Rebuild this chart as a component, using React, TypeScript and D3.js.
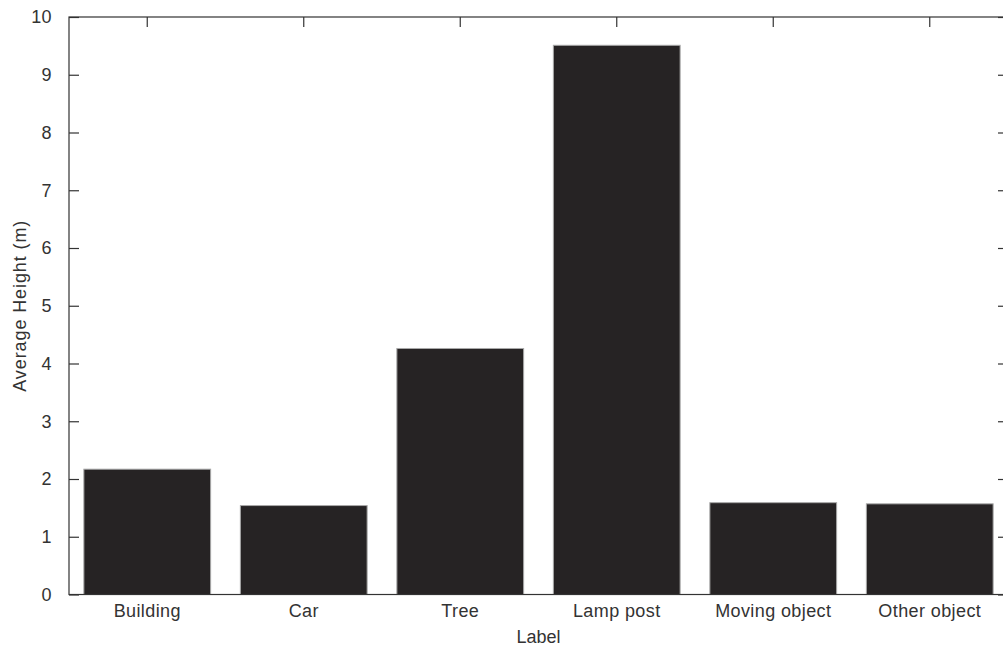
import React, { useEffect, useRef } from "react";
import * as d3 from "d3";

const categories = ["Building", "Car", "Tree", "Lamp post", "Moving object", "Other object"];
const heights = [2.17, 1.54, 4.26, 9.51, 1.59, 1.57];
const yTicks = [0, 1, 2, 3, 4, 5, 6, 7, 8, 9, 10];

export default function App() {
  const svgRef = useRef<SVGSVGElement | null>(null);

  useEffect(() => {
    if (!svgRef.current) return;
    const svg = d3.select(svgRef.current);
    svg.selectAll("*").remove();

    const left = 69;
    const right = 1008;
    const top = 17;
    const bottom = 594.5;
    const axisColor = "#333";
    const font = "Arial, 'Liberation Sans', Helvetica, sans-serif";

    const x = d3
      .scaleBand<string>()
      .domain(categories)
      .range([left, right])
      .paddingInner(0.19)
      .paddingOuter(0.095);

    const y = d3.scaleLinear().domain([0, 10]).range([bottom, top]);

    // bars
    svg
      .append("g")
      .selectAll("rect")
      .data(heights)
      .enter()
      .append("rect")
      .attr("x", (_, i) => x(categories[i])!)
      .attr("y", (d) => y(d))
      .attr("width", x.bandwidth())
      .attr("height", (d) => bottom - y(d))
      .attr("fill", "#262324")
      .attr("stroke", "#a8a8a8")
      .attr("stroke-width", 1);

    const styleAxis = (g: d3.Selection<SVGGElement, unknown, null, undefined>) => {
      g.select(".domain").remove();
      g.selectAll(".tick line").attr("stroke", axisColor).attr("stroke-width", 1.2);
      g.selectAll(".tick text")
        .attr("fill", "#333")
        .style("font-family", font)
        .style("font-size", "18px")
        .style("letter-spacing", "0.4px");
    };

    // left axis, ticks inward
    svg
      .append("g")
      .attr("transform", `translate(${left},0)`)
      .call(d3.axisLeft(y).tickValues(yTicks).tickSize(-10).tickPadding(17).tickFormat(d3.format("d")))
      .call(styleAxis);

    // right axis ticks
    svg
      .append("g")
      .attr("transform", `translate(${right},0)`)
      .call(d3.axisRight(y).tickValues(yTicks).tickSize(-10).tickFormat(() => ""))
      .call(styleAxis);

    // top ticks
    svg
      .append("g")
      .attr("transform", `translate(0,${top})`)
      .call(d3.axisTop(x).tickSize(-10).tickFormat(() => ""))
      .call(styleAxis);

    // bottom labels
    svg
      .append("g")
      .attr("transform", `translate(0,${bottom})`)
      .call(d3.axisBottom(x).tickSize(0).tickPadding(10))
      .call(styleAxis);

    // box
    svg
      .append("rect")
      .attr("x", left)
      .attr("y", top)
      .attr("width", right - left)
      .attr("height", bottom - top)
      .attr("fill", "none")
      .attr("stroke", axisColor)
      .attr("stroke-width", 1.2);

    svg
      .append("text")
      .attr("x", (left + right) / 2)
      .attr("y", 643)
      .attr("text-anchor", "middle")
      .attr("fill", "#333")
      .style("font-family", font)
      .style("font-size", "18px")
      .text("Label");

    svg
      .append("text")
      .attr("transform", `translate(26,${(top + bottom) / 2}) rotate(-90)`)
      .attr("text-anchor", "middle")
      .attr("fill", "#333")
      .style("font-family", font)
      .style("font-size", "18px")
      .style("letter-spacing", "0.9px")
      .text("Average Height (m)");
  }, []);

  return (
    <svg
      ref={svgRef}
      width={1003}
      height={648}
      style={{ position: "absolute", left: 0, top: 0, display: "block", background: "#fff" }}
    />
  );
}
